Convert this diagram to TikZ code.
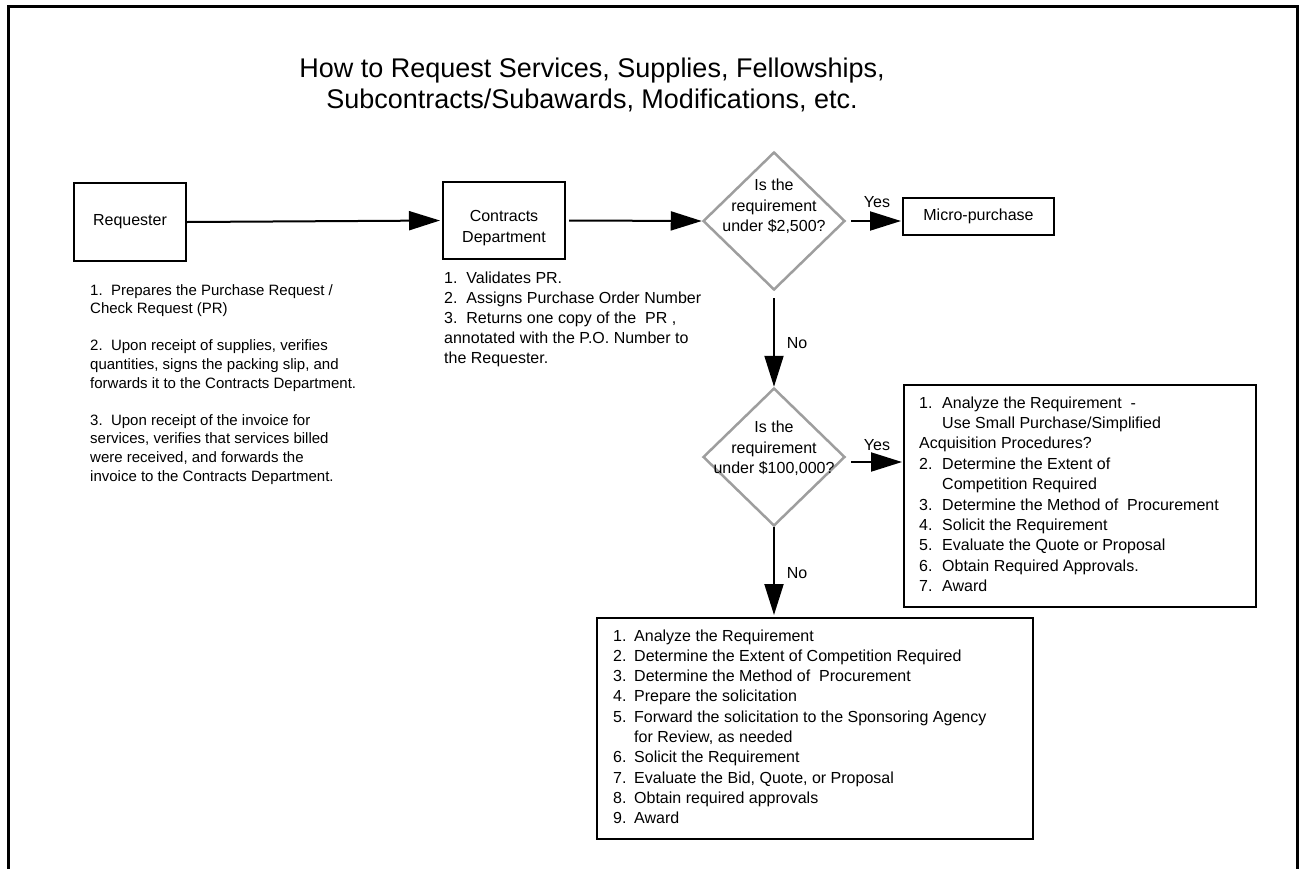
\documentclass[tikz,border=0pt]{standalone}
\usepackage{fontspec}
\setmainfont{Liberation Sans}
\usetikzlibrary{arrows.meta,shapes.geometric}
\begin{document}
\begin{tikzpicture}[x=1pt,y=-1pt,
  box/.style={draw,line width=2pt,rectangle,inner sep=0pt},
  dia/.style={diamond,draw=black!38,line width=2.5pt,inner sep=0pt,minimum width=142pt,minimum height=138pt},
  arr/.style={line width=2pt,-{Triangle[length=31pt,width=19pt]}},
  txta/.style={inner sep=0pt,font=\fontsize{15}{18.6}\selectfont},
  txtb/.style={inner sep=0pt,font=\fontsize{16}{20.3}\selectfont},
  lab/.style={inner sep=0pt,font=\fontsize{16}{19}\selectfont}]
\useasboundingbox (0,0) rectangle (1299,868);
% frame
\coordinate (f1) at (8,870);
\coordinate (f2) at (8,6);
\coordinate (f3) at (1297,6);
\coordinate (f4) at (1297,870);
\draw[line width=3pt] (f1) -- (f2) -- (f3) -- (f4);
% title
\node[inner sep=0pt,anchor=base,font=\fontsize{27}{31}\selectfont] (title) at (592,77)
  {\begin{tabular}[t]{@{}c@{}}How to Request Services, Supplies, Fellowships,\\Subcontracts/Subawards, Modifications, etc.\end{tabular}};
% boxes
\node[box,minimum width=112pt,minimum height=78pt,font=\fontsize{16}{19}\selectfont] (req) at (130,222) {Requester};
\node[box,minimum width=122pt,minimum height=77pt] (cd) at (504,220.5) {};
\node[txtb,align=center] (cdt) at (504,228) {Contracts\\Department};
\node[dia] (d1) at (774,221) {};
\node[txtb] (d1t) at (774,207) {\begin{tabular}{@{}c@{}}Is the\\requirement\\under \$2,500?\end{tabular}};
\node[box,minimum width=151pt,minimum height=37pt,font=\fontsize{16}{19}\selectfont] (micro) at (978.5,216.5) {Micro-purchase};
\node[dia] (d2) at (774,457) {};
\node[txtb] (d2t) at (774,449) {\begin{tabular}{@{}c@{}}Is the\\requirement\\under \$100,000?\end{tabular}};
\node[box,minimum width=352pt,minimum height=222pt] (rbox) at (1080,496) {};
\node[box,minimum width=436pt,minimum height=221pt] (bbox) at (815,728.5) {};
% texts
\node[txta,anchor=base west] (reqtxt) at (90,295) {\begin{tabular}[t]{@{}l@{}}1.\ \ Prepares the Purchase Request /\\Check Request (PR)\\ \\2.\ \ Upon receipt of supplies, verifies\\quantities, signs the packing slip, and\\forwards it to the Contracts Department.\\ \\3.\ \ Upon receipt of the invoice for\\services, verifies that services billed\\were received, and forwards the\\invoice to the Contracts Department.\end{tabular}};
\node[inner sep=0pt,font=\fontsize{16}{20}\selectfont,anchor=base west] (cdtxt) at (444,283) {\begin{tabular}[t]{@{}l@{}}1.\ \ Validates PR.\\2.\ \ Assigns Purchase Order Number\\3.\ \ Returns one copy of the\ \ PR ,\\annotated with the P.O. Number to\\the Requester.\end{tabular}};
\node[inner sep=0pt,font=\fontsize{16}{20.4}\selectfont,anchor=base west] (rtxt) at (919,408) {\begin{tabular}[t]{@{}l@{}}\makebox[23pt][l]{1.}Analyze the Requirement\ \ -\\\hspace*{23pt}Use Small Purchase/Simplified\\Acquisition Procedures?\\\makebox[23pt][l]{2.}Determine the Extent of\\\hspace*{23pt}Competition Required\\\makebox[23pt][l]{3.}Determine the Method of\ \ Procurement\\\makebox[23pt][l]{4.}Solicit the Requirement\\\makebox[23pt][l]{5.}Evaluate the Quote or Proposal\\\makebox[23pt][l]{6.}Obtain Required Approvals.\\\makebox[23pt][l]{7.}Award\end{tabular}};
\node[txtb,anchor=base west] (btxt) at (613,641) {\begin{tabular}[t]{@{}l@{}}\makebox[21pt][l]{1.}Analyze the Requirement\\\makebox[21pt][l]{2.}Determine the Extent of Competition Required\\\makebox[21pt][l]{3.}Determine the Method of\ \ Procurement\\\makebox[21pt][l]{4.}Prepare the solicitation\\\makebox[21pt][l]{5.}Forward the solicitation to the Sponsoring Agency\\\hspace*{21pt}for Review, as needed\\\makebox[21pt][l]{6.}Solicit the Requirement\\\makebox[21pt][l]{7.}Evaluate the Bid, Quote, or Proposal\\\makebox[21pt][l]{8.}Obtain required approvals\\\makebox[21pt][l]{9.}Award\end{tabular}};
% connectors
\draw[arr,shorten >=2pt] (req.east) -- (cd.west);
\draw[arr,shorten <=3pt] (cd.east) -- (d1.west);
\draw[arr,shorten <=5pt,shorten >=1pt] (d1.east) -- (micro.west |- d1.east);
\draw[arr,shorten <=7pt] (d1.south) -- (d2.north);
\draw[arr,shorten <=5pt,shorten >=1pt] ([yshift=-5pt]d2.east) -- ([yshift=-5pt]rbox.west |- d2.east);
\draw[arr,shorten >=2pt] (d2.south) -- (d2.south |- bbox.north);
% labels
\node[lab] (yes1) at (877,202) {Yes};
\node[lab] (no1) at (797,343) {No};
\node[lab] (yes2) at (877,445) {Yes};
\node[lab] (no2) at (797,573) {No};
\end{tikzpicture}
\end{document}
